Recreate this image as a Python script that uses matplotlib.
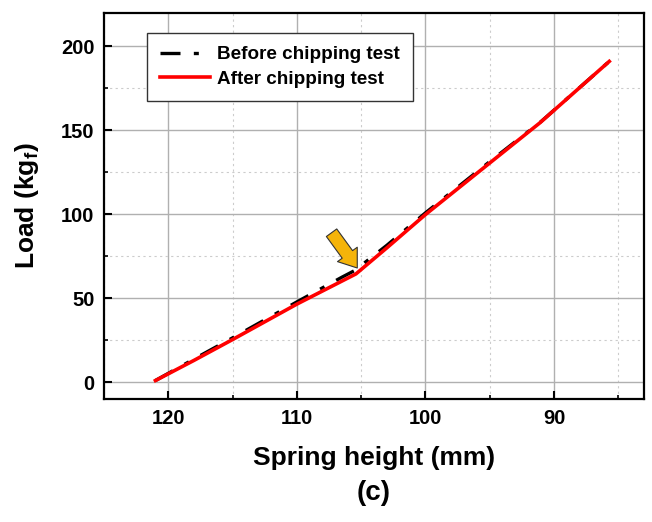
import matplotlib
matplotlib.use("Agg")
import matplotlib.pyplot as plt
from matplotlib.ticker import MultipleLocator

plt.rcParams['font.family'] = ['Liberation Sans', 'DejaVu Sans']
plt.rcParams['font.weight'] = 'bold'
plt.rcParams['mathtext.fontset'] = 'custom'
plt.rcParams['mathtext.rm'] = 'Liberation Sans:bold'
plt.rcParams['mathtext.bf'] = 'Liberation Sans:bold'

# --- data ---
height_before = [121.0, 118.0, 115.0, 110.0, 106.5, 105.5, 103.0, 100.0, 95.0, 91.0, 85.7]
load_before = [1.0, 13.8, 26.4, 47.8, 62.5, 66.5, 81.5, 100.8, 131.3, 155.2, 191.0]

height_after = [121.0, 118.0, 115.0, 110.0, 105.4, 103.0, 100.0, 95.0, 91.1, 85.7]
load_after = [1.0, 13.0, 25.4, 46.5, 64.5, 80.0, 99.8, 130.5, 154.4, 191.0]

fig = plt.figure(figsize=(6.52, 5.22), dpi=100)
ax = fig.add_axes([0.1595, 0.2356, 0.8282, 0.7401])

ax.plot(height_before, load_before, color='black', lw=2.4, dashes=(6, 4, 1.5, 4),
        label='Before chipping test', zorder=3)
ax.plot(height_after, load_after, color='#ff0000', lw=2.6,
        label='After chipping test', zorder=4)

# arrow pointing at the kink
ax.annotate('', xy=(105.3, 68.0), xytext=(107.3, 89),
            arrowprops=dict(arrowstyle='simple,head_length=0.55,head_width=0.8,tail_width=0.42',
                            mutation_scale=22, fc='#f5b40a', ec='#333333', lw=0.8,
                            shrinkA=0, shrinkB=0), zorder=5)

ax.set_xlim(125, 83)
ax.set_ylim(-10, 220)
ax.xaxis.set_major_locator(MultipleLocator(10))
ax.xaxis.set_minor_locator(MultipleLocator(5))
ax.yaxis.set_major_locator(MultipleLocator(50))
ax.yaxis.set_minor_locator(MultipleLocator(25))

ax.grid(which='major', color='#b0b0b0', lw=1.0, ls='-')
ax.grid(which='minor', color='#cccccc', lw=0.8, ls=(0, (2, 3)))
ax.set_axisbelow(True)

ax.tick_params(which='major', direction='in', length=6, width=1.5, labelsize=14.5, pad=7)
ax.tick_params(which='minor', direction='in', length=3, width=1.2)
for s in ax.spines.values():
    s.set_linewidth(1.6)

ax.set_xlabel('Spring height (mm)', fontsize=19, fontweight='bold', labelpad=13)
ax.set_ylabel(r'Load (kg$_\mathbf{f}$)', fontsize=19, fontweight='bold', labelpad=14)

leg = ax.legend(loc='upper left', bbox_to_anchor=(0.08, 0.948), fontsize=13.6,
                frameon=True, fancybox=False, edgecolor='#333333', framealpha=1,
                handlelength=2.6, handletextpad=0.4, borderpad=0.7, labelspacing=0.38,
                borderaxespad=0)
leg.get_frame().set_linewidth(1.0)

fig.text(0.5735, 0.055, '(c)', ha='center', va='center', fontsize=20, fontweight='bold')

fig.savefig('out.png', dpi=100)
